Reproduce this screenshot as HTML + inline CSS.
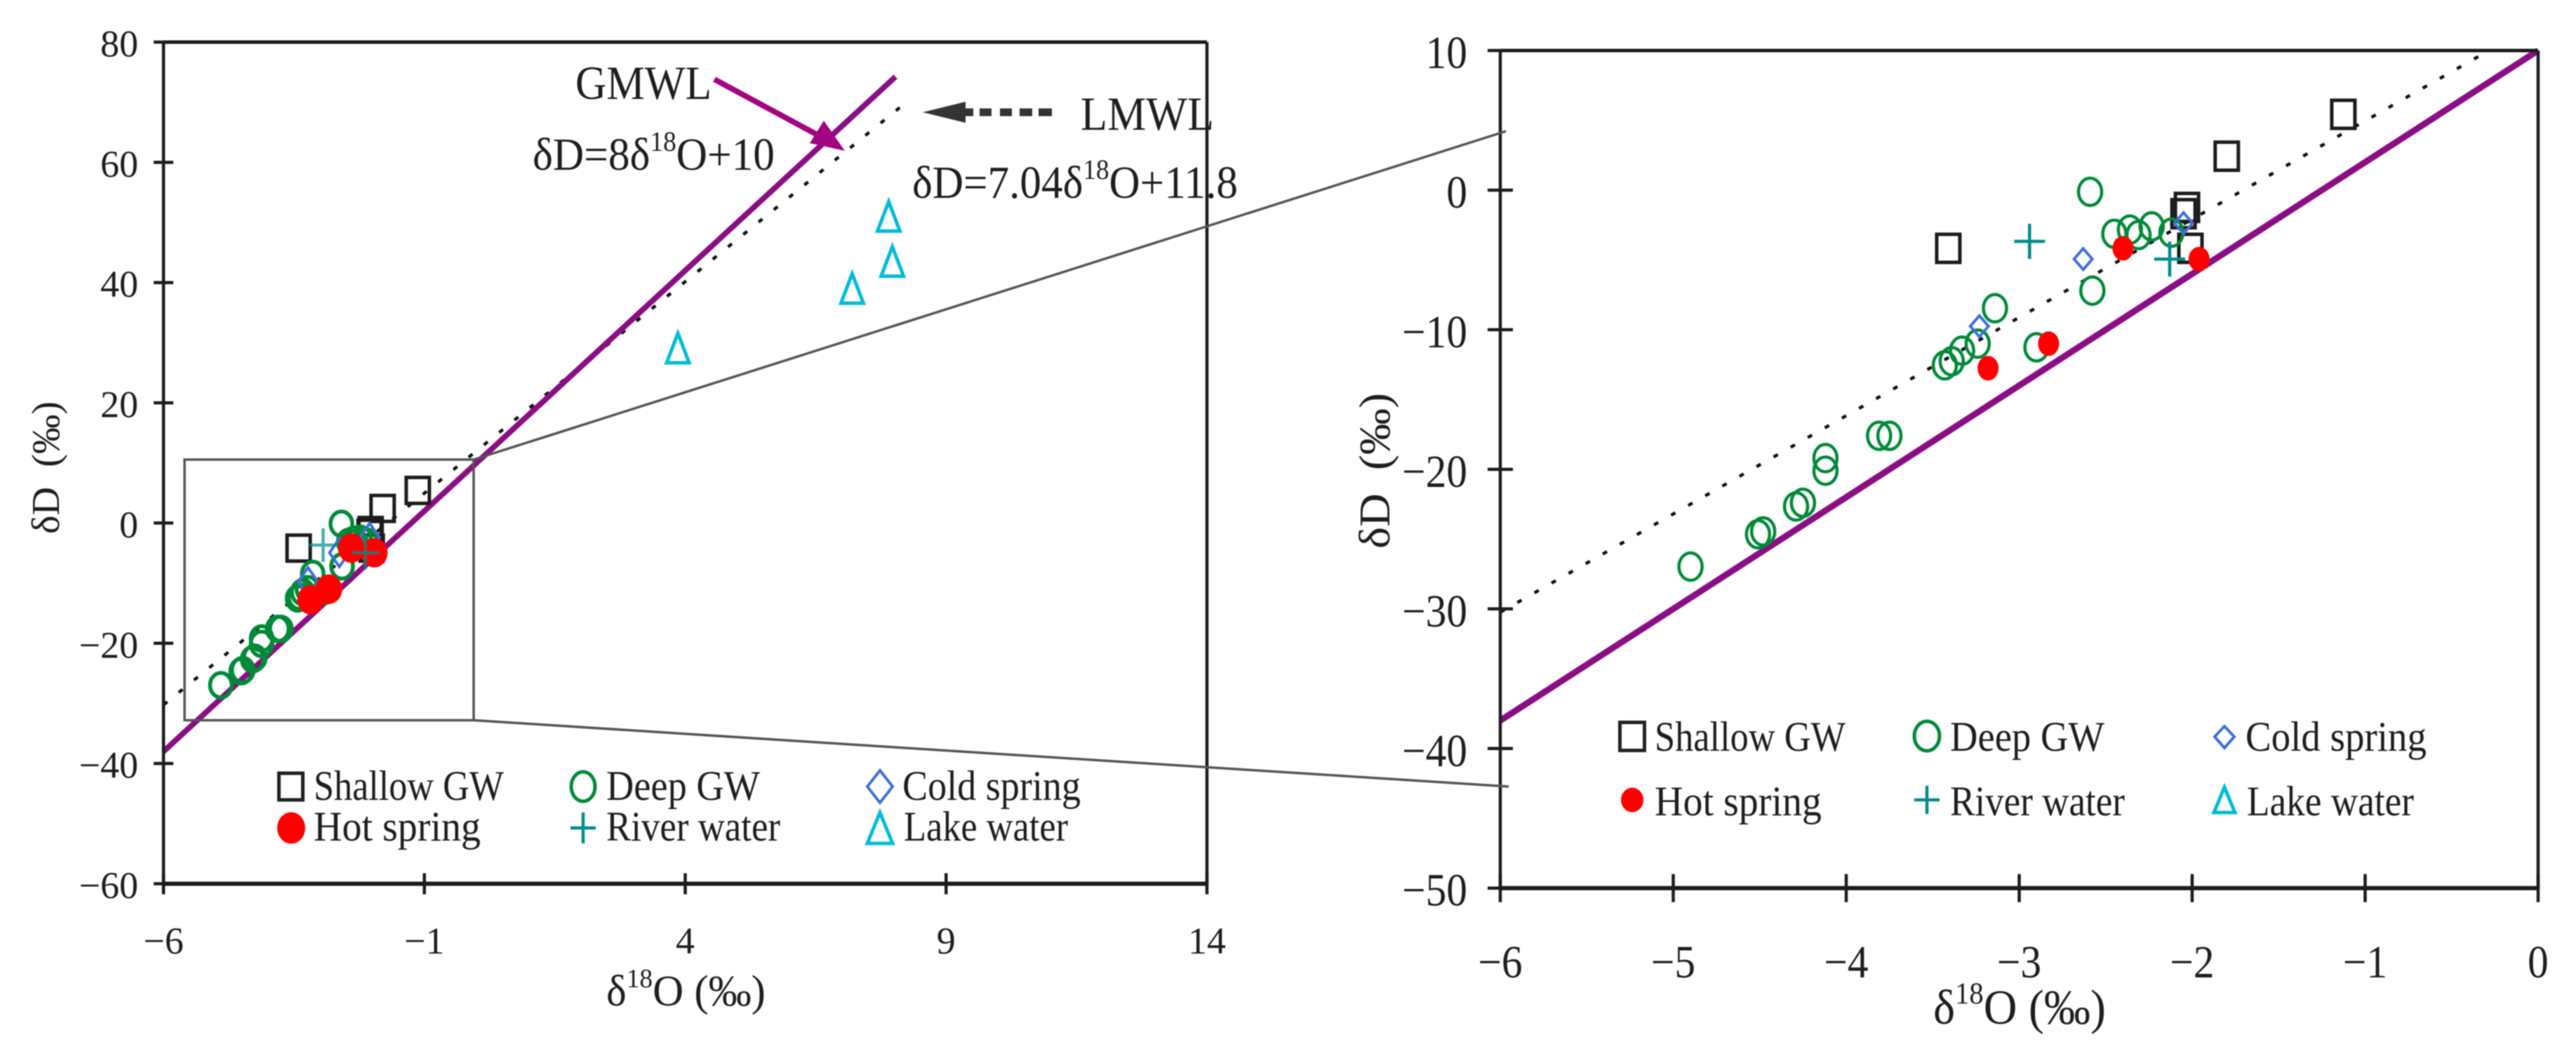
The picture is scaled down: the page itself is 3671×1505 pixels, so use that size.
<!DOCTYPE html>
<html lang="en">
<head>
<meta charset="utf-8">
<title>Isotope δD vs δ18O scatter plots</title>
<style>
  html, body { margin: 0; padding: 0; background: #fff; }
  body { width: 3671px; height: 1505px; overflow: hidden; }
  svg { display: block; filter: blur(0.7px); }
  text { font-family: "Liberation Serif", "DejaVu Serif", serif; fill: #1e1e1e; }
</style>
</head>
<body>
<svg id="chart" xmlns="http://www.w3.org/2000/svg" width="3671" height="1505" viewBox="0 0 3671 1505">
  <rect x="0" y="0" width="3671" height="1505" fill="#ffffff"/>
  <g id="left-panel"></g>
  <g id="right-panel"></g>

  <g fill="none" stroke="#555" stroke-width="3.5">
    <rect x="263" y="655" width="412" height="371.5"/>
    <line x1="675" y1="655" x2="2146" y2="187"/>
    <line x1="675" y1="1026.5" x2="2150" y2="1121"/>
  </g>

  <g>
    <text x="820" y="141" font-size="68" textLength="194" lengthAdjust="spacingAndGlyphs" fill="#333">GMWL</text>
    <line x1="1018" y1="113" x2="1172" y2="196" stroke="#a4047f" stroke-width="8"/>
    <polygon points="1204,215 1154,204 1174,172" fill="#a4047f"/>
    <text x="759" y="242" font-size="66" textLength="345" lengthAdjust="spacingAndGlyphs">δD=8δ<tspan dy="-27" font-size="40">18</tspan><tspan dy="27">O+10</tspan></text>
    <text x="1540" y="185" font-size="68" textLength="190" lengthAdjust="spacingAndGlyphs" fill="#333">LMWL</text>
    <polygon points="1315,160 1376,145 1376,175" fill="#333"/>
    <line x1="1376" y1="160" x2="1500" y2="160" stroke="#333" stroke-width="11" stroke-dasharray="11 9 17 12 17 11 18 9 19"/>
    <text x="1300" y="282" font-size="66" textLength="464" lengthAdjust="spacingAndGlyphs">δD=7.04δ<tspan dy="-27" font-size="40">18</tspan><tspan dy="27">O+11.8</tspan></text>
  </g>

  <g>
    <text x="864" y="1433" font-size="62" textLength="227" lengthAdjust="spacingAndGlyphs">δ<tspan dy="-26" font-size="38">18</tspan><tspan dy="26">O (‰)</tspan></text>
    <text transform="translate(84,761) rotate(-90)" font-size="56" textLength="189" lengthAdjust="spacingAndGlyphs" xml:space="preserve">δD  (‰)</text>
  </g>

  <g>
    <text x="2755" y="1459" font-size="70" textLength="246" lengthAdjust="spacingAndGlyphs">δ<tspan dy="-29" font-size="43">18</tspan><tspan dy="29">O (‰)</tspan></text>
    <text transform="translate(1980,782) rotate(-90)" font-size="62" textLength="222" lengthAdjust="spacingAndGlyphs" xml:space="preserve">δD  (‰)</text>
  </g>

  <g font-size="60">
    <rect x="397.5" y="1102" width="34" height="38" fill="none" stroke="#222" stroke-width="5"/>
    <text x="447" y="1140" textLength="271" lengthAdjust="spacingAndGlyphs">Shallow GW</text>
    <ellipse cx="831" cy="1121" rx="17" ry="21" fill="none" stroke="#008a37" stroke-width="5"/>
    <text x="864" y="1140" textLength="219" lengthAdjust="spacingAndGlyphs">Deep GW</text>
    <polygon points="1254,1098 1272,1121 1254,1144 1236,1121" fill="none" stroke="#3f6fd8" stroke-width="4"/>
    <text x="1286" y="1140" textLength="254" lengthAdjust="spacingAndGlyphs">Cold spring</text>
    <ellipse cx="415" cy="1180" rx="20" ry="22.5" fill="#ff0000"/>
    <text x="447" y="1198" textLength="238" lengthAdjust="spacingAndGlyphs">Hot spring</text>
    <path d="M831 1158V1202M813 1180H849" fill="none" stroke="#008b8b" stroke-width="4.5"/>
    <text x="864" y="1198" textLength="248" lengthAdjust="spacingAndGlyphs">River water</text>
    <polygon points="1254,1158 1272,1202 1236,1202" fill="none" stroke="#00bcd8" stroke-width="5"/>
    <text x="1288" y="1198" textLength="234" lengthAdjust="spacingAndGlyphs">Lake water</text>
  </g>

  <g font-size="60">
    <rect x="2308.5" y="1029.5" width="35" height="40" fill="none" stroke="#222" stroke-width="5"/>
    <text x="2358" y="1070" textLength="272" lengthAdjust="spacingAndGlyphs">Shallow GW</text>
    <ellipse cx="2746" cy="1049" rx="18" ry="21" fill="none" stroke="#008a37" stroke-width="5"/>
    <text x="2779" y="1070" textLength="220" lengthAdjust="spacingAndGlyphs">Deep GW</text>
    <polygon points="3170,1035 3184,1050 3170,1066 3156,1050" fill="none" stroke="#3f6fd8" stroke-width="4"/>
    <text x="3200" y="1070" textLength="258" lengthAdjust="spacingAndGlyphs">Cold spring</text>
    <ellipse cx="2326" cy="1140" rx="16" ry="17.5" fill="#ff0000"/>
    <text x="2358" y="1162" textLength="238" lengthAdjust="spacingAndGlyphs">Hot spring</text>
    <path d="M2746 1120V1160M2728 1140H2764" fill="none" stroke="#008b8b" stroke-width="4.5"/>
    <text x="2779" y="1162" textLength="249" lengthAdjust="spacingAndGlyphs">River water</text>
    <polygon points="3170,1122 3185,1158 3155,1158" fill="none" stroke="#00bcd8" stroke-width="5"/>
    <text x="3202" y="1162" textLength="238" lengthAdjust="spacingAndGlyphs">Lake water</text>
  </g>
</svg>

<script>
const leftXTicks = [-6, -1, 4, 9, 14];
const leftYTicks = [-60, -40, -20, 0, 20, 40, 60, 80];
const rightXTicks = [-6, -5, -4, -3, -2, -1, 0];
const rightYTicks = [-50, -40, -30, -20, -10, 0, 10];

const gmwlSlope = 8;
const gmwlIntercept = 10;
const lmwlSlope = 7.04;
const lmwlIntercept = 12;

const leftGmwlRange = [-6, 8.03];
const leftLmwlRange = [-6, 8.27];
const rightGmwlRange = [-6, 0];
const rightLmwlRange = [-6, -0.3];

const shallowX = [-3.41, -1.8, -2.03, -2.05, -2.01, -1.126];
const shallowY = [-4.17, 2.43, -1.24, -1.69, -4.17, 5.43];

const deepX = [-2.59, -2.45, -2.36, -2.31, -2.234, -2.12, -2.577, -3.14, -2.9, -3.24, -3.33, -3.39, -3.43, -3.81, -3.75, -4.12, -4.12, -4.29, -4.25, -4.51, -4.48, -4.9];
const deepY = [-0.12, -3.13, -2.83, -3.22, -2.6, -3.05, -7.2, -8.46, -11.26, -11, -11.5, -12.26, -12.55, -17.6, -17.6, -19.2, -20.1, -22.66, -22.4, -24.65, -24.45, -26.97];

const coldX = [-2.63, -3.23, -2.05];
const coldY = [-4.94, -9.75, -2.37];

const hotX = [-2.4, -1.96, -2.83, -3.18];
const hotY = [-4.17, -4.94, -11, -12.76];

const riverX = [-2.94, -2.13];
const riverY = [-3.67, -4.94];

const lakeX = [3.86, 7.2, 7.97, 7.9];
const lakeY = [29, 38.9, 43.4, 50.9];

const SVG_NS = 'http://www.w3.org/2000/svg';

function linearScale(d0, d1, r0, r1) {
  return function (v) {
    return r0 + (v - d0) * (r1 - r0) / (d1 - d0);
  };
}

function make(parent, tag, attrs) {
  const el = document.createElementNS(SVG_NS, tag);
  Object.keys(attrs).forEach(function (k) { el.setAttribute(k, attrs[k]); });
  parent.appendChild(el);
  return el;
}

function formatTick(v) {
  return v < 0 ? '\u2212' + Math.abs(v) : String(v);
}

function drawPanel(parent, opt) {
  const xs = linearScale(opt.xDomain[0], opt.xDomain[1], opt.xRange[0], opt.xRange[1]);
  const ys = linearScale(opt.yDomain[0], opt.yDomain[1], opt.yRange[0], opt.yRange[1]);
  const left = opt.xRange[0], right = opt.xRange[1];
  const bottom = opt.yRange[0], top = opt.yRange[1];
  const ink = '#1c1c1c';

  const lmwlLine = make(parent, 'line', {
    x1: xs(opt.lmwlRange[0]), y1: ys(lmwlSlope * opt.lmwlRange[0] + lmwlIntercept),
    x2: xs(opt.lmwlRange[1]), y2: ys(lmwlSlope * opt.lmwlRange[1] + lmwlIntercept),
    stroke: '#111', 'stroke-width': 4.5, 'stroke-dasharray': '7 21'
  });
  
  

  const gmwlLine = make(parent, 'line', {
    x1: xs(opt.gmwlRange[0]), y1: ys(gmwlSlope * opt.gmwlRange[0] + gmwlIntercept),
    x2: xs(opt.gmwlRange[1]), y2: ys(gmwlSlope * opt.gmwlRange[1] + gmwlIntercept),
    stroke: '#8b0d84', 'stroke-width': opt.gmwlWidth
  });
  
  

  shallowX.forEach(function (v, i) {
    const m = make(parent, 'rect', {
      x: xs(v) - opt.square[0] / 2, y: ys(shallowY[i]) - opt.square[1] / 2,
      width: opt.square[0], height: opt.square[1],
      fill: 'none', stroke: '#1c1c1c', 'stroke-width': 5
    });
    
    
  });

  deepX.forEach(function (v, i) {
    const m = make(parent, 'ellipse', {
      cx: xs(v), cy: ys(deepY[i]), rx: opt.circle[0], ry: opt.circle[1],
      fill: 'none', stroke: '#008a37', 'stroke-width': opt.circleWidth
    });
    
    
  });

  coldX.forEach(function (v, i) {
    const cx = xs(v), cy = ys(coldY[i]), w = opt.diamond[0], h = opt.diamond[1];
    const m = make(parent, 'polygon', {
      points: cx + ',' + (cy - h) + ' ' + (cx + w) + ',' + cy + ' ' + cx + ',' + (cy + h) + ' ' + (cx - w) + ',' + cy,
      fill: 'none', stroke: '#3f6fd8', 'stroke-width': 4
    });
    
    
  });

  hotX.forEach(function (v, i) {
    const m = make(parent, 'ellipse', {
      cx: xs(v), cy: ys(hotY[i]), rx: opt.hot[0], ry: opt.hot[1], fill: '#ff0000'
    });
    
    
  });

  riverX.forEach(function (v, i) {
    const cx = xs(v), cy = ys(riverY[i]), w = opt.plus[0], h = opt.plus[1];
    const m = make(parent, 'path', {
      d: 'M' + cx + ' ' + (cy - h) + 'V' + (cy + h) + 'M' + (cx - w) + ' ' + cy + 'H' + (cx + w),
      fill: 'none', stroke: '#008b8b', 'stroke-width': 4.5, 'stroke-opacity': opt.plusOpacity
    });
    
    
  });

  lakeX.forEach(function (v, i) {
    if (v > opt.xDomain[1] || lakeY[i] > opt.yDomain[1]) { return; }
    const cx = xs(v), cy = ys(lakeY[i]);
    const m = make(parent, 'polygon', {
      points: cx + ',' + (cy - 22) + ' ' + (cx + 16) + ',' + (cy + 20) + ' ' + (cx - 16) + ',' + (cy + 20),
      fill: 'none', stroke: '#00bcd8', 'stroke-width': 5
    });
    
    
  });

  const frame = make(parent, 'path', {
    d: 'M' + left + ' ' + top + 'V' + bottom + 'M' + right + ' ' + top + 'V' + bottom,
    fill: 'none', stroke: ink, 'stroke-width': 4.5
  });
  
  

  const topAxis = make(parent, 'line', {
    x1: left, y1: top, x2: right, y2: top, stroke: ink, 'stroke-width': 5
  });
  
  

  const bottomAxis = make(parent, 'line', {
    x1: left, y1: bottom, x2: right, y2: bottom, stroke: ink, 'stroke-width': 6
  });
  
  

  opt.xTicks.forEach(function (v) {
    const t = make(parent, 'line', {
      x1: xs(v), y1: bottom - opt.xTickLen, x2: xs(v), y2: bottom + opt.xTickLen,
      stroke: ink, 'stroke-width': 4.5
    });
    
    
    const lab = make(parent, 'text', {
      transform: 'translate(' + xs(v) + ',' + opt.xLabelY + ') scale(' + opt.labelSqueeze + ',1)',
      'font-size': opt.xLabelSize, 'text-anchor': 'middle'
    });
    lab.textContent = formatTick(v);
    
    
  });

  opt.yTicks.forEach(function (v) {
    const t = make(parent, 'line', {
      x1: left - opt.yTickLen, y1: ys(v), x2: left + opt.yTickLen, y2: ys(v),
      stroke: ink, 'stroke-width': 4.5
    });
    
    
    const lab = make(parent, 'text', {
      transform: 'translate(' + opt.yLabelX + ',' + (ys(v) + opt.yLabelDy) + ') scale(' + opt.labelSqueeze + ',1)',
      'font-size': opt.yLabelSize, 'text-anchor': 'end'
    });
    lab.textContent = formatTick(v);
    
    
  });
}

drawPanel(document.getElementById('left-panel'), {
  xDomain: [-6, 14], xRange: [233, 1720],
  yDomain: [-60, 80], yRange: [1259.5, 60],
  xTicks: leftXTicks, yTicks: leftYTicks,
  gmwlRange: leftGmwlRange, lmwlRange: leftLmwlRange,
  gmwlWidth: 8, square: [33, 37], circle: [15.5, 17.5], circleWidth: 5.5,
  diamond: [14, 20], hot: [19, 21], plus: [20, 24], plusOpacity: 0.7,
  xTickLen: 15, yTickLen: 14, xLabelY: 1359, xLabelSize: 54,
  yLabelX: 197, yLabelDy: 20.5, yLabelSize: 54, labelSqueeze: 1
});

drawPanel(document.getElementById('right-panel'), {
  xDomain: [-6, 0], xRange: [2138, 3617],
  yDomain: [-50, 10], yRange: [1265.7, 72],
  xTicks: rightXTicks, yTicks: rightYTicks,
  gmwlRange: rightGmwlRange, lmwlRange: rightLmwlRange,
  gmwlWidth: 9, square: [33, 40], circle: [16.5, 19.5], circleWidth: 4.5,
  diamond: [13, 15], hot: [15, 17.5], plus: [22, 25], plusOpacity: 1,
  xTickLen: 20, yTickLen: 18, xLabelY: 1393, xLabelSize: 66,
  yLabelX: 2091, yLabelDy: 25, yLabelSize: 66, labelSqueeze: 0.9
});
</script>
</body>
</html>
